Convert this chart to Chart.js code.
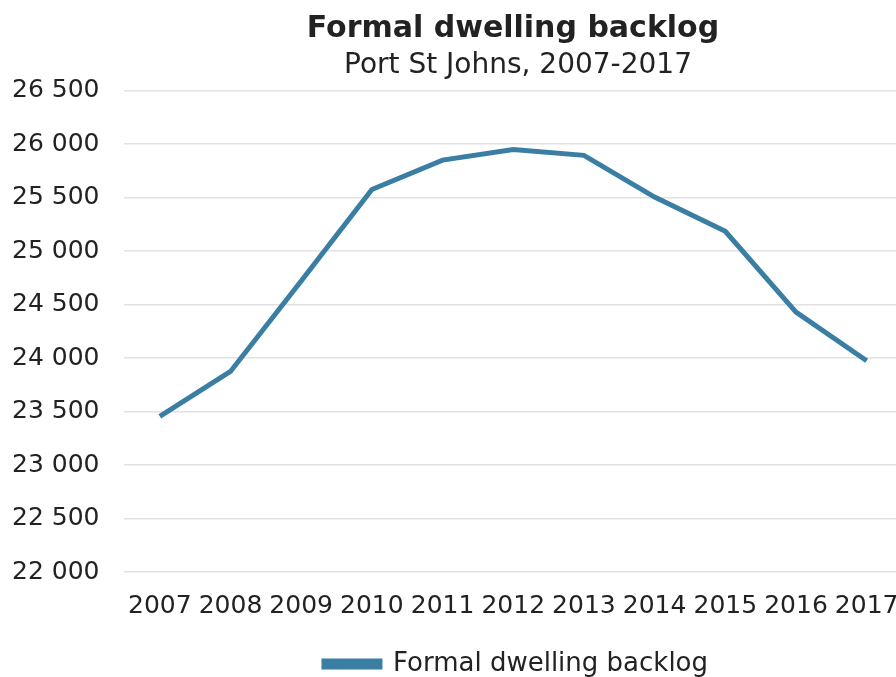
<!DOCTYPE html>
<html>
<head>
<meta charset="utf-8">
<script src="https://cdn.jsdelivr.net/npm/chart.js@4"></script>
<style>
  html, body { margin: 0; padding: 0; background: #fff; }
  #wrap { width: 896px; height: 677px; position: relative; }
</style>
</head>
<body>
<div id="wrap"><canvas id="c"></canvas></div>
<script>
// Formal dwelling backlog, Port St Johns
const years = ["2007", "2008", "2009", "2010", "2011", "2012", "2013", "2014", "2015", "2016", "2017"];
const backlog = [23455, 23875, 24720, 25575, 25850, 25950, 25895, 25505, 25185, 24430, 23975];
const yMin = 22000, yMax = 26500, yStep = 500;

const FONT = "'DejaVu Sans', Verdana, sans-serif";
const LINE = "#3a7ea3";
const OVERHANG = 6; // plot area runs a little past the right edge of the picture

function spaced(v) {
  return String(v).replace(/\B(?=(\d{3})+(?!\d))/g, " ");
}

// title, subtitle and legend sit centred over the plot area, not the canvas
const shiftBlocks = {
  id: "shiftBlocks",
  afterLayout(chart) {
    chart.boxes.forEach((b) => {
      let d = 0;
      if (b instanceof Chart.Title._element) d = b.options.text === "Formal dwelling backlog" ? 59 : 64;
      else if (b instanceof Chart.Legend._element) d = 62;
      b.left += d;
      b.right += d;
    });
    const x = chart.scales.x;
    x.right += OVERHANG;
    x.width += OVERHANG;
    x.configure();
    chart.chartArea.right += OVERHANG;
    chart.chartArea.width += OVERHANG;
  },
};

new Chart(document.getElementById("c"), {
  type: "line",
  data: {
    labels: years,
    datasets: [{
      label: "Formal dwelling backlog",
      data: backlog,
      borderColor: LINE,
      backgroundColor: LINE,
      borderWidth: 5,
      pointRadius: 0,
      tension: 0,
    }],
  },
  plugins: [shiftBlocks],
  options: {
    responsive: true,
    maintainAspectRatio: false,
    animation: false,
    layout: { autoPadding: false, padding: { left: 12, right: 0, top: 11, bottom: -10 } },
    plugins: {
      title: {
        display: true,
        text: "Formal dwelling backlog",
        color: "#222",
        font: { family: FONT, size: 30, weight: "bold" },
        padding: { top: 0, bottom: 0 },
      },
      subtitle: {
        display: true,
        text: "Port St Johns, 2007-2017",
        color: "#222",
        font: { family: FONT, size: 28 },
        padding: { top: 2, bottom: 8 },
      },
      legend: {
        position: "bottom",
        labels: {
          color: "#222",
          font: { family: FONT, size: 26 },
          boxWidth: 56,
          boxHeight: 6,
          padding: 2,
        },
      },
      tooltip: { enabled: false },
    },
    scales: {
      x: {
        offset: true,
        grid: { display: false, drawTicks: false },
        border: { display: false },
        ticks: { color: "#222", font: { family: FONT, size: 25 }, maxRotation: 0, autoSkip: false, padding: 19 },
        afterFit(s) {
          s.paddingLeft = 0;
          s.paddingRight = 0;
          s.height += 9;
        },
      },
      y: {
        min: yMin,
        max: yMax,
        grid: { color: "#e2e2e2", lineWidth: 1.5, drawTicks: false },
        border: { display: false },
        ticks: {
          stepSize: yStep,
          color: "#222",
          font: { family: FONT, size: 25 },
          padding: 25,
          callback: (v) => spaced(v),
        },
        afterFit(s) {
          s.width -= 25; // padding is counted twice for the label column
        },
      },
    },
  },
});
</script>
</body>
</html>
